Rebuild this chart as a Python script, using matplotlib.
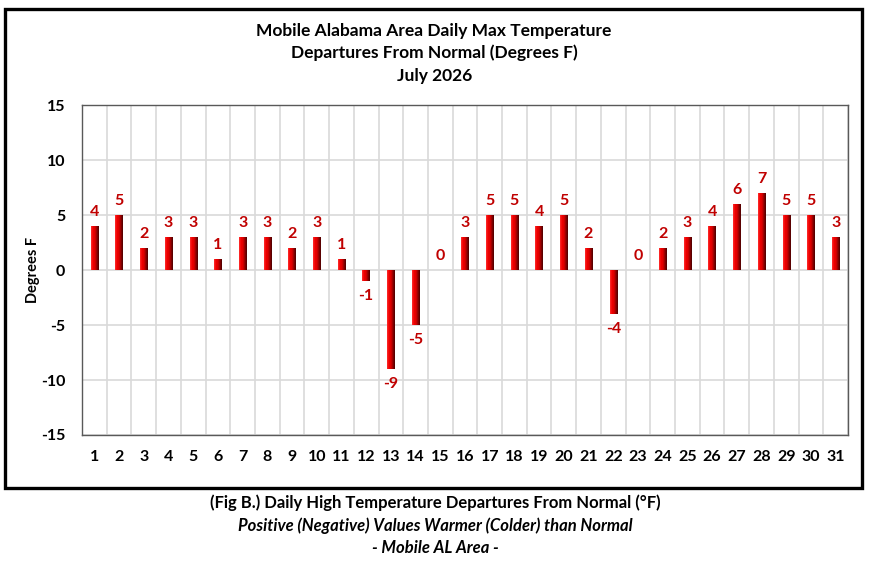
import matplotlib
matplotlib.use("Agg")
import matplotlib.pyplot as plt
import numpy as np
from matplotlib.colors import LinearSegmentedColormap
from matplotlib.patches import Rectangle

plt.rcParams['font.family'] = ['Lato', 'DejaVu Sans']

days = list(range(1, 32))
departures = [4, 5, 2, 3, 3, 1, 3, 3, 2, 3, 1, -1, -9, -5, 0, 3, 5, 5, 4, 5, 2, -4, 0, 2, 3, 4, 6, 7, 5, 5, 3]
yticks = [-15, -10, -5, 0, 5, 10, 15]
title_lines = ["Mobile Alabama Area Daily Max Temperature",
               "Departures From Normal (Degrees F)",
               "July 2026"]
caption_lines = ["(Fig B.) Daily High Temperature Departures From Normal (\u00b0F)",
                 "Positive (Negative) Values Warmer (Colder) than Normal",
                 "- Mobile AL Area -"]

fig = plt.figure(figsize=(8.7, 5.61), dpi=100)
ax = fig.add_axes([0.0943, 0.2246, 0.8804, 0.5882])

cmap = LinearSegmentedColormap.from_list("barred", ["#ff3030", "#f00000", "#dd0000", "#900000", "#4a0000"])
grad = np.linspace(0, 1, 64).reshape(1, -1)
bw = 0.3
for d, v in zip(days, departures):
    if v != 0:
        ax.imshow(grad, extent=[d - bw / 2, d + bw / 2, min(0, v), max(0, v)],
                  aspect='auto', cmap=cmap, zorder=3, interpolation='bilinear')
    if v >= 0:
        ax.annotate(str(v), (d, v), xytext=(0, 5), textcoords='offset points',
                    ha='center', va='bottom', color='#c00000', fontsize=11.5, fontweight='bold')
    else:
        ax.annotate(str(v), (d, v), xytext=(0, -6), textcoords='offset points',
                    ha='center', va='top', color='#c00000', fontsize=11.5, fontweight='bold')

ax.set_xlim(0.5, 31.5)
ax.set_ylim(-15, 15)
ax.set_yticks(yticks)
ax.set_yticklabels([str(t) for t in yticks], fontsize=11.5, fontweight='bold')
ax.set_xticks(days)
ax.set_xticklabels([str(d) for d in days], fontsize=11.5, fontweight='bold')
ax.set_xticks(np.arange(0.5, 32, 1), minor=True)
ax.tick_params(axis='both', which='both', length=0)
ax.tick_params(axis='x', pad=11)
ax.tick_params(axis='y', pad=12)
ax.grid(True, axis='y', which='major', color='#d9d9d9', linewidth=1.2, zorder=0)
ax.grid(True, axis='x', which='minor', color='#d9d9d9', linewidth=1.2, zorder=0)
ax.set_axisbelow(True)
for s in ax.spines.values():
    s.set_color('#595959')
    s.set_linewidth(1.0)

fig.text(0.038, 0.5187, "Degrees F", rotation=90, ha='center', va='center',
         fontsize=10.5, fontweight='bold')

ty = [31, 53, 76]
for line, y in zip(title_lines, ty):
    fig.text(0.499, 1 - y / 561, line, ha='center', va='center', fontsize=12.5, fontweight='bold')

fig.patches.append(Rectangle((5 / 870, 1 - 488 / 561), 857 / 870, 479 / 561,
                             transform=fig.transFigure, fill=False, edgecolor='black',
                             linewidth=2.4, zorder=10))

cy = [503, 526, 548]
styles = ['normal', 'italic', 'italic']
for line, y, st in zip(caption_lines, cy, styles):
    fig.text(0.5, 1 - y / 561, line, ha='center', va='center', fontsize=12,
             fontweight='bold', style=st)

fig.savefig("out.png", dpi=100)
